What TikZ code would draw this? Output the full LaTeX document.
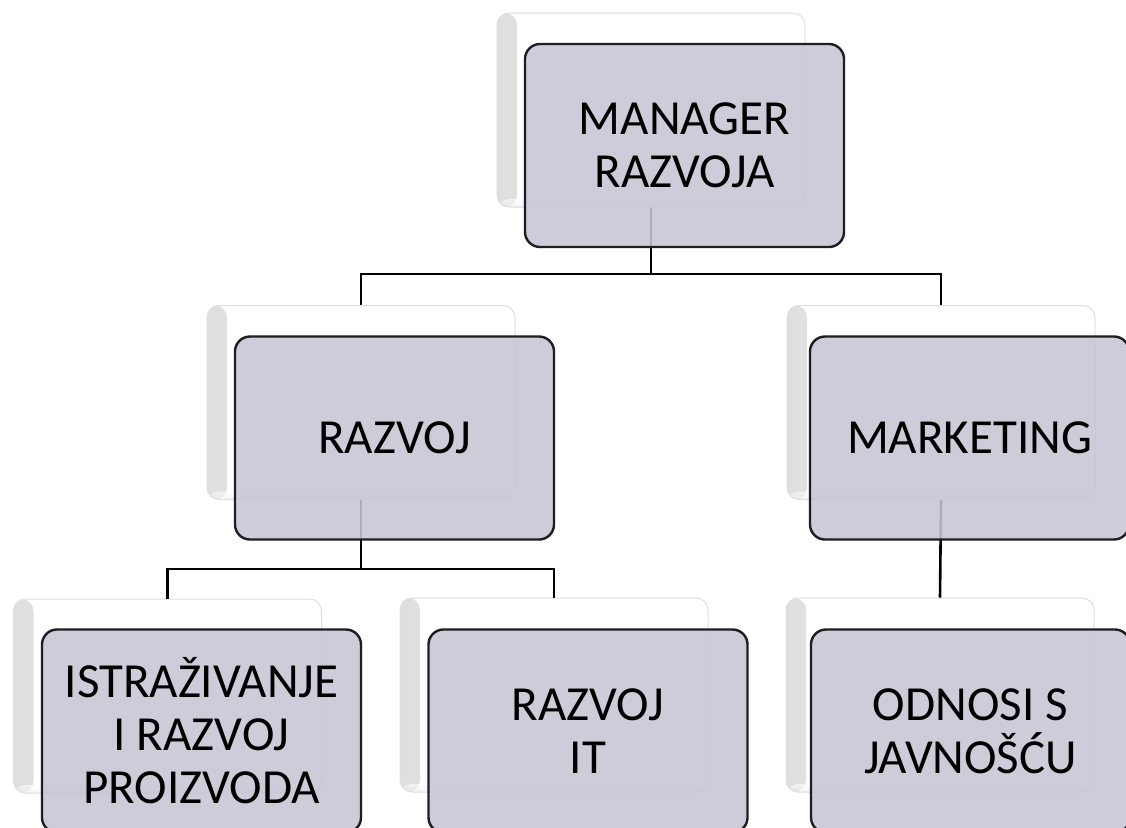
\documentclass[tikz,border=0pt]{standalone}
\usepackage{fontspec}
\setmainfont{Carlito}
\begin{document}
\begin{tikzpicture}[x=1pt,y=-1pt,
  backbox/.style={rectangle, rounded corners=12pt, minimum width=308pt, minimum height=194pt,
    inner sep=0pt, fill=white, draw={rgb,255:red,222;green,222;blue,228}, line width=1pt,
    path picture={
      \shade[left color=black!13, right color=white]
        ([xshift=-4pt]path picture bounding box.south west) rectangle ([xshift=20pt]path picture bounding box.north west);
      \shade[bottom color=black!10, top color=white, fill opacity=0.6]
        ([yshift=-2pt]path picture bounding box.south west) rectangle ([yshift=8pt]path picture bounding box.south east);
    }},
  frontbox/.style={rectangle, rounded corners=15pt, minimum width=319pt, minimum height=203pt,
    inner sep=0pt, fill={rgb,255:red,199;green,197;blue,211}, fill opacity=0.88, text opacity=1,
    draw={rgb,255:red,30;green,30;blue,34}, line width=2.4pt, align=center,
    font=\fontsize{49}{53}\selectfont},
  conn/.style={draw=black, line width=2.6pt}
]
\useasboundingbox (0,0) rectangle (1126,827);
\clip (0,0) rectangle (1126,827);
\fill[white] (0,0) rectangle (1126,827);

% back boxes
\node[backbox] (b1) at (651,110) {};
\node[backbox] (b2) at (361,402.5) {};
\node[backbox] (b3) at (941,402.5) {};
\node[backbox] (b4) at (167.5,696) {};
\node[backbox] (b5) at (554,695) {};
\node[backbox] (b6) at (940,695) {};

% connectors
\coordinate (bar1) at (0,274);
\coordinate (bar2) at (0,569);
\draw[conn] (b1.south) -- (b1.south |- bar1) -| (b2.north);
\draw[conn] (b1.south |- bar1) -| (b3.north);
\draw[conn] (b2.south) -- (b2.south |- bar2) -| (b4.north);
\draw[conn] (b2.south |- bar2) -| (b5.north);
\draw[conn] (b3.south) -- (b6.north);

% front boxes
\node[frontbox] (f1) at (684.5,145.5) {MANAGER\\RAZVOJA};
\node[frontbox] (f2) at (394.5,438) {RAZVOJ};
\node[frontbox] (f3) at (969.5,438) {MARKETING};
\node[frontbox] (f4) at (201.5,731) {ISTRAŽIVANJE\\I RAZVOJ\\PROIZVODA};
\node[frontbox] (f5) at (588,731) {RAZVOJ\\IT};
\node[frontbox] (f6) at (970.5,731) {ODNOSI S\\JAVNOŠĆU};
\end{tikzpicture}
\end{document}
